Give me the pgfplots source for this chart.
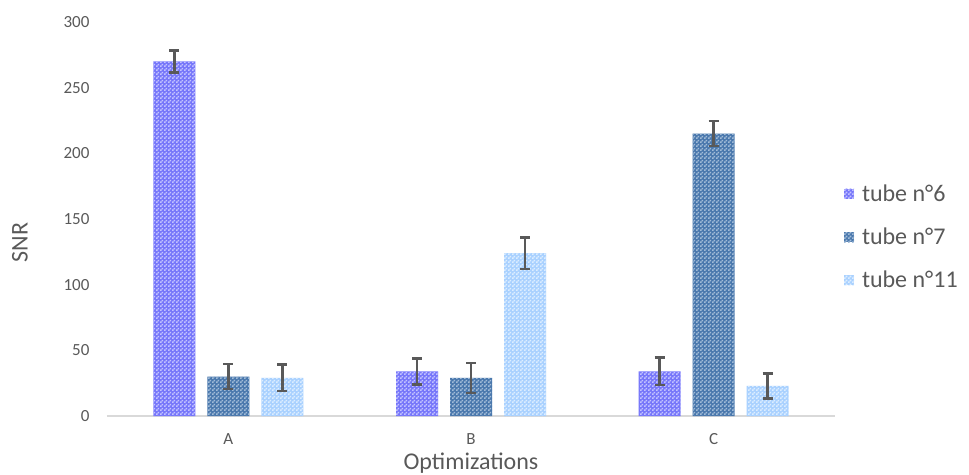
\documentclass[border=0pt]{standalone}
\usepackage{pgfplots}
\pgfplotsset{compat=1.18}
\usepackage{fontspec}
\setmainfont{Carlito}
\usetikzlibrary{patterns}
\definecolor{darkA}{HTML}{7676FA}
\definecolor{lightA}{HTML}{C4C4FF}
\definecolor{darkB}{HTML}{4A78AD}
\definecolor{lightB}{HTML}{A2BCD8}
\definecolor{darkC}{HTML}{A9D1FF}
\definecolor{lightC}{HTML}{DDEEFF}
\definecolor{txtgray}{HTML}{595959}
\definecolor{axgray}{HTML}{D9D9D9}
\pgfdeclarepatternformonly{mychecker}{\pgfqpoint{0bp}{0bp}}{\pgfqpoint{4bp}{4bp}}{\pgfqpoint{4bp}{4bp}}{%
  \pgfpathrectangle{\pgfqpoint{0bp}{0bp}}{\pgfqpoint{2bp}{2bp}}%
  \pgfpathrectangle{\pgfqpoint{2bp}{2bp}}{\pgfqpoint{2bp}{2bp}}%
  \pgfusepath{fill}}
\pgfplotstableread{
x v6 e6 v7 e7 v11 e11
0 270 8.4 30 9.5 29 10
1 34 10 29 11.5 124 12
2 34 10.5 215 9.5 23 9.5
}\datatable
\begin{document}
\begin{tikzpicture}
\begin{axis}[
  at={(0,0)}, anchor=south west,
  scale only axis, width=728bp, height=394bp,
  ybar=12bp, bar width=42bp,
  xmin=-0.5, xmax=2.5, ymin=0, ymax=300,
  xtick={0,1,2}, xticklabels={A,B,C},
  ytick={0,50,...,300},
  major tick length=0pt,
  axis x line*=bottom, axis y line*=left,
  x axis line style={axgray, line width=1.5bp, -},
  y axis line style={draw=none},
  tick label style={font=\fontsize{17bp}{20bp}\selectfont, text=txtgray},
  /pgf/number format/assume math mode=true,
  yticklabel style={xshift=-14bp},
  xticklabel style={yshift=-14bp},
  ylabel={SNR}, xlabel={Optimizations},
  label style={font=\fontsize{24bp}{28bp}\selectfont, text=txtgray},
  ylabel style={at={(axis description cs:-0.1195,0.44)}, anchor=center},
  xlabel style={at={(axis description cs:0.5,-0.119)}, anchor=center},
  legend style={at={(axis description cs:1.008,0.454)}, anchor=west, draw=none,
    font=\fontsize{24bp}{28bp}\selectfont, text=txtgray, row sep=21bp, fill=none},
  legend cell align=left,
  legend image code/.code={\fill[#1] (0bp,-5bp) rectangle (10bp,5bp); \path (16bp,0bp);},
  error bars/y dir=both, error bars/y explicit,
  error bars/error bar style={txtgray, line width=2.6bp},
  error bars/error mark options={rotate=90, mark size=5bp, line width=2.6bp, txtgray},
]
\addplot[draw=none, fill=darkA, postaction={pattern=mychecker, pattern color=lightA}]
  table[x=x, y=v6, y error=e6] {\datatable};
\addplot[draw=none, fill=darkB, postaction={pattern=mychecker, pattern color=lightB}]
  table[x=x, y=v7, y error=e7] {\datatable};
\addplot[draw=none, fill=darkC, postaction={pattern=mychecker, pattern color=lightC}]
  table[x=x, y=v11, y error=e11] {\datatable};
\legend{tube n°6, tube n°7, tube n°11}
\end{axis}
\pgfresetboundingbox
\path[use as bounding box] (-107bp,-59bp) rectangle (862bp,416bp);
\end{tikzpicture}
\end{document}
